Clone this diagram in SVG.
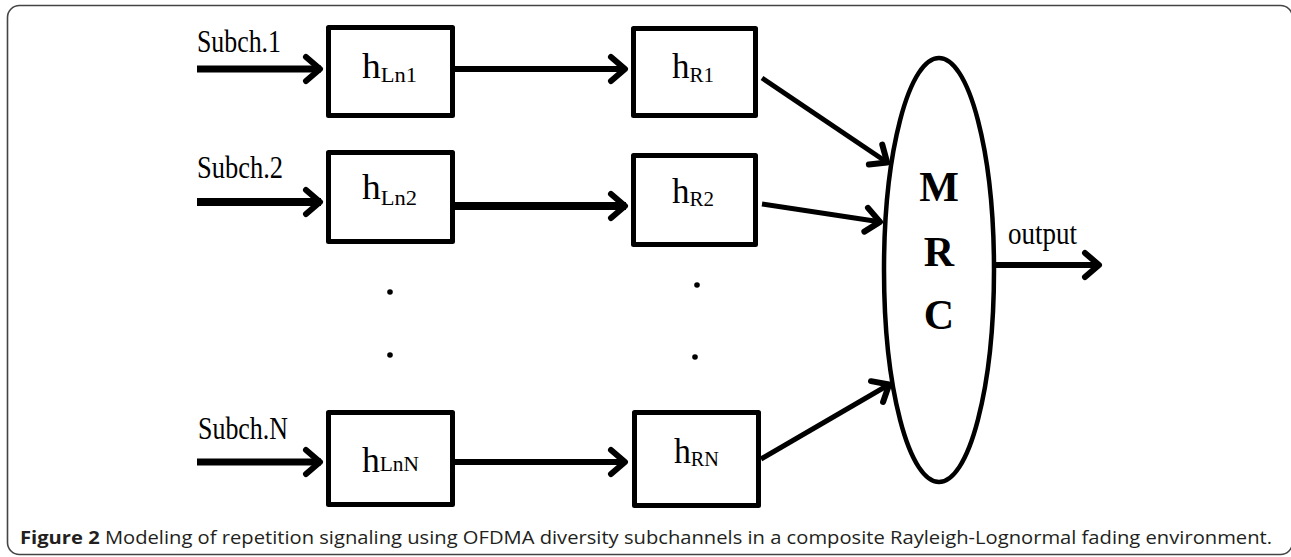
<svg xmlns="http://www.w3.org/2000/svg" width="1291" height="557" viewBox="0 0 1291 557">
<style>
.box{fill:#fff;stroke:#000;stroke-width:5;stroke-linejoin:round}
.ln{fill:none;stroke:#000;stroke-linecap:butt}
.lbl{font-family:"Liberation Serif","Times New Roman",serif;fill:#000}
.h{font-size:35px}
.sub{font-size:21px}
.sc{font-family:"Liberation Serif","Times New Roman",serif;font-size:32px;fill:#000}
.mrc{font-family:"Liberation Serif","Times New Roman",serif;font-size:42px;font-weight:bold;fill:#000;text-anchor:middle}
.cap{font-family:"Open Sans","Liberation Sans",Arial,sans-serif;font-size:18px;fill:#231f20}
</style>
<defs>
<marker id="ah" markerUnits="userSpaceOnUse" markerWidth="40" markerHeight="40" viewBox="-20 -20 40 40" refX="0" refY="0" orient="auto">
<path d="M-15,-12 L-1,0 L-15,12" fill="none" stroke="#000" stroke-width="6" stroke-linecap="round" stroke-linejoin="round"/>
</marker>
</defs>
<rect x="7.5" y="5.5" width="1285" height="549" rx="12" ry="12" fill="none" stroke="#444" stroke-width="1.6"/>

<g id="connectors">
<line class="ln" x1="197" y1="69" x2="321" y2="69" stroke-width="7" marker-end="url(#ah)"/>
<line class="ln" x1="455" y1="69" x2="626" y2="69" stroke-width="6" marker-end="url(#ah)"/>
<line class="ln" x1="197" y1="202" x2="321" y2="202" stroke-width="8" marker-end="url(#ah)"/>
<line class="ln" x1="455" y1="206" x2="626" y2="206" stroke-width="8" marker-end="url(#ah)"/>
<line class="ln" x1="197" y1="462" x2="321" y2="462" stroke-width="7" marker-end="url(#ah)"/>
<line class="ln" x1="455" y1="462" x2="626" y2="462" stroke-width="6" marker-end="url(#ah)"/>
<line class="ln" x1="762" y1="78" x2="888" y2="163" stroke-width="5" marker-end="url(#ah)"/>
<line class="ln" x1="762" y1="204" x2="881" y2="222" stroke-width="5" marker-end="url(#ah)"/>
<line class="ln" x1="761" y1="459" x2="890" y2="384" stroke-width="5" marker-end="url(#ah)"/>
<line class="ln" x1="995" y1="265" x2="1100" y2="265" stroke-width="6" marker-end="url(#ah)"/>
</g>

<g id="labels-inputs">
<text class="sc" x="197" y="52" textLength="84" lengthAdjust="spacingAndGlyphs">Subch.1</text>
<text class="sc" x="197" y="178" textLength="86" lengthAdjust="spacingAndGlyphs">Subch.2</text>
<text class="sc" x="198" y="439" textLength="90" lengthAdjust="spacingAndGlyphs">Subch.N</text>
</g>

<g id="node-hLn1">
<rect class="box" x="328.5" y="27.5" width="124" height="88"/>
<text class="lbl" x="362" y="78" textLength="55" lengthAdjust="spacingAndGlyphs"><tspan class="h">h</tspan><tspan class="sub" dy="4">Ln1</tspan></text>
</g>
<g id="node-hLn2">
<rect class="box" x="328.5" y="152.5" width="124" height="89"/>
<text class="lbl" x="362" y="199" textLength="55" lengthAdjust="spacingAndGlyphs"><tspan class="h">h</tspan><tspan class="sub" dy="6">Ln2</tspan></text>
</g>
<g id="node-hLnN">
<rect class="box" x="328.5" y="412.5" width="124" height="92"/>
<text class="lbl" x="362" y="472" textLength="57" lengthAdjust="spacingAndGlyphs"><tspan class="h">h</tspan><tspan class="sub" dy="-1">LnN</tspan></text>
</g>
<g id="node-hR1">
<rect class="box" x="633.5" y="28.5" width="122" height="87"/>
<text class="lbl" x="672" y="78" textLength="42" lengthAdjust="spacingAndGlyphs"><tspan class="h">h</tspan><tspan class="sub" dy="4">R1</tspan></text>
</g>
<g id="node-hR2">
<rect class="box" x="633.5" y="155.5" width="122" height="89"/>
<text class="lbl" x="672" y="203" textLength="42" lengthAdjust="spacingAndGlyphs"><tspan class="h">h</tspan><tspan class="sub" dy="3">R2</tspan></text>
</g>
<g id="node-hRN">
<rect class="box" x="634.5" y="412.5" width="124" height="93"/>
<text class="lbl" x="674" y="463" textLength="45" lengthAdjust="spacingAndGlyphs"><tspan class="h">h</tspan><tspan class="sub" dy="3">RN</tspan></text>
</g>

<g id="dots">
<circle cx="390" cy="292" r="2.8" fill="#000"/>
<circle cx="390" cy="355" r="2.8" fill="#000"/>
<circle cx="697" cy="285" r="2.8" fill="#000"/>
<circle cx="695" cy="357" r="2.8" fill="#000"/>
</g>

<g id="node-MRC">
<ellipse cx="939" cy="270" rx="55" ry="212" fill="#fff" stroke="#000" stroke-width="4.5"/>
<text class="mrc" x="939" y="201">M</text>
<text class="mrc" x="939" y="266">R</text>
<text class="mrc" x="939" y="329">C</text>
</g>

<text class="sc" x="1008" y="244" textLength="69" lengthAdjust="spacingAndGlyphs">output</text>

<text class="cap" x="20" y="544" textLength="1252" lengthAdjust="spacingAndGlyphs"><tspan font-weight="bold">Figure 2</tspan> Modeling of repetition signaling using OFDMA diversity subchannels in a composite Rayleigh-Lognormal fading environment.</text>
</svg>
